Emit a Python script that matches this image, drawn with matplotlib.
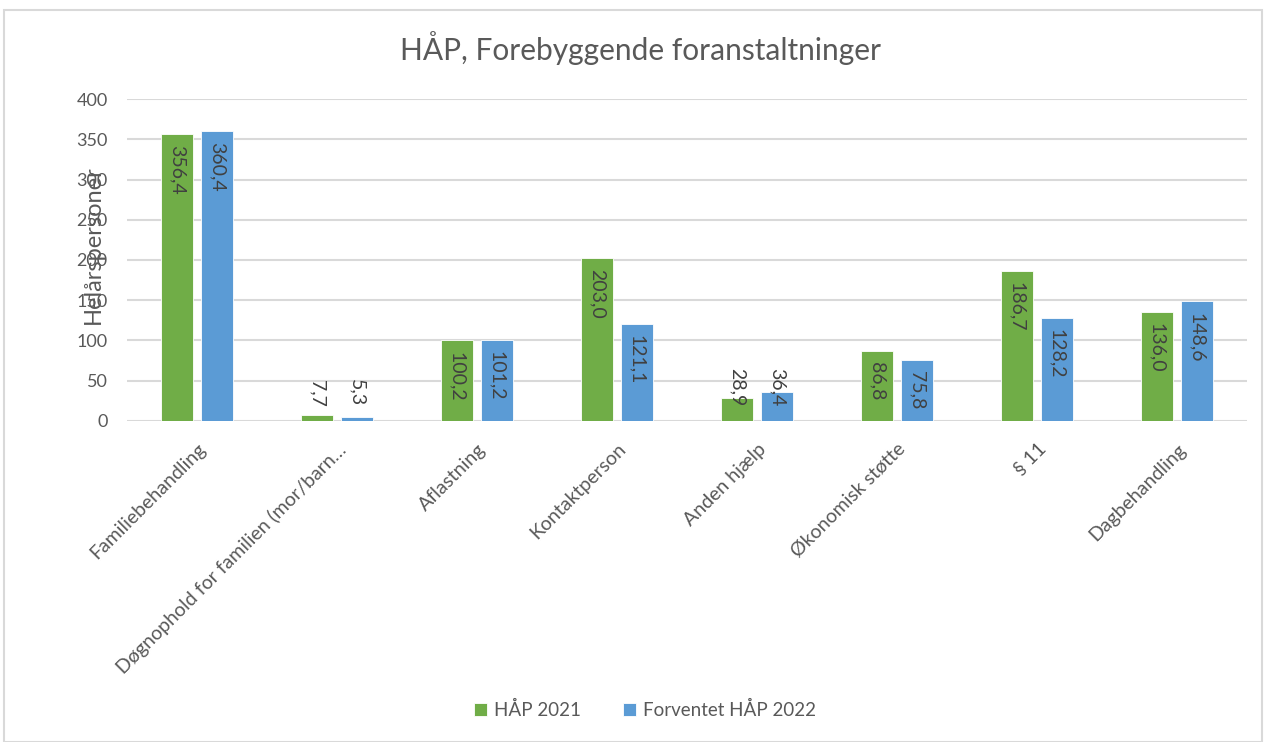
import matplotlib.pyplot as plt
import numpy as np
from matplotlib.patches import Rectangle

plt.rcParams['font.family'] = ['Lato', 'DejaVu Sans']

# Data
kategorier = ['Familiebehandling', 'Døgnophold for familien (mor/barn…', 'Aflastning',
              'Kontaktperson', 'Anden hjælp', 'Økonomisk støtte', '§ 11', 'Dagbehandling']
hap_2021 = [356.4, 7.7, 100.2, 203.0, 28.9, 86.8, 186.7, 136.0]
hap_2022 = [360.4, 5.3, 101.2, 121.1, 36.4, 75.8, 128.2, 148.6]
serier = ['HÅP 2021', 'Forventet HÅP 2022']
farver = ['#70AD47', '#5B9BD5']

tekst_farve = '#595959'
label_farve = '#404040'

fig = plt.figure(figsize=(12.66, 7.42), dpi=100)
ax = fig.add_axes([127 / 1266, 1 - 421 / 742, (1247 - 127) / 1266, (421 - 99) / 742])

x = np.arange(len(kategorier))
bredde = 0.229
offset = 0.143

for i, (vals, navn, farve) in enumerate(zip([hap_2021, hap_2022], serier, farver)):
    pos = x + (-offset if i == 0 else offset)
    ax.bar(pos, vals, width=bredde, color=farve, label=navn, zorder=3,
           edgecolor='white', linewidth=0.6)
    for p, v in zip(pos, vals):
        txt = f'{v:.1f}'.replace('.', ',')
        if v < 50:
            ax.text(p, 18, txt, rotation=270, ha='center', va='bottom',
                    fontsize=14, color=label_farve, zorder=4)
        else:
            ax.text(p, v - 14, txt, rotation=270, ha='center', va='top',
                    fontsize=14, color=label_farve, zorder=4)

ax.set_xlim(-0.5, len(kategorier) - 0.5)
ax.set_ylim(0, 400)
ax.set_yticks(range(0, 401, 50))
ax.yaxis.grid(True, color='#D9D9D9', linewidth=1.5, zorder=0)
ax.set_axisbelow(True)
for s in ax.spines.values():
    s.set_visible(False)
ax.tick_params(axis='both', length=0, labelsize=13, colors=tekst_farve)
ax.tick_params(axis='y', pad=14)
ax.set_xticks(x)
ax.set_xticklabels(kategorier, rotation=45, ha='right', rotation_mode='anchor', fontsize=14)
ax.tick_params(axis='x', pad=14)

fig.text(93 / 1266, 1 - 245 / 742, 'Helårspersoner', rotation=90, ha='center',
         va='center', fontsize=17, color=tekst_farve)

fig.text(640 / 1266, 1 - 48 / 742, 'HÅP, Forebyggende foranstaltninger',
         ha='center', va='center', fontsize=21.5, color=tekst_farve)

leg = fig.legend(loc='center', bbox_to_anchor=(645 / 1266, 1 - 710 / 742), ncol=2,
                 frameon=False, fontsize=13.5, handlelength=0.7, handleheight=0.7,
                 handletextpad=0.4, columnspacing=2.2)
for t in leg.get_texts():
    t.set_color(tekst_farve)

# ramme rundt om diagrammet
fig.patches.append(Rectangle((4 / 1266, 0), 1 - 8 / 1266, 1 - 10 / 742,
                             transform=fig.transFigure, fill=False,
                             edgecolor='#D9D9D9', linewidth=1.5))

fig.savefig('out.png', dpi=100)
